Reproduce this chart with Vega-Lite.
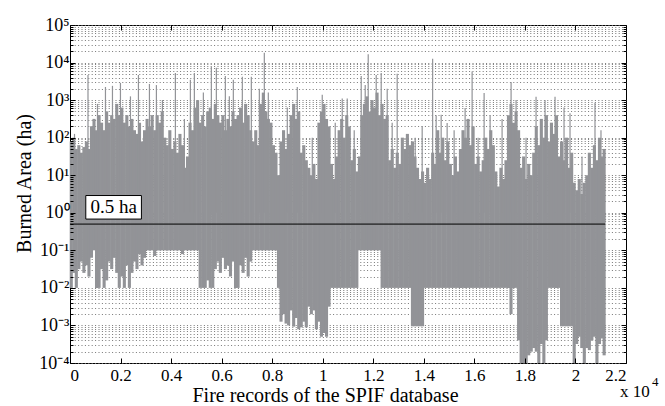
{
  "$schema": "https://vega.github.io/schema/vega-lite/v6.json",
  "width": 556,
  "height": 338,
  "autosize": {"type": "none"},
  "padding": {"left": 70, "top": 25, "right": 39, "bottom": 43},
  "background": "white",
  "config": {
    "font": "Liberation Serif",
    "view": {"stroke": "black", "strokeWidth": 1},
    "axis": {"labelFont": "Liberation Serif", "titleFont": "Liberation Serif", "labelColor": "black", "titleColor": "black", "titleFontWeight": "normal", "domainColor": "black", "tickColor": "black"}
  },
  "datasets": {
    "bins": [
      {"x":50,"lo":0.01,"hi":79.4},{"x":150,"lo":0.0251,"hi":100},{"x":250,"lo":0.01,"hi":50.1},{"x":350,"lo":0.0316,"hi":63.1},{"x":450,"lo":0.0501,"hi":39.8},{"x":550,"lo":0.0251,"hi":56.2},{"x":650,"lo":0.0398,"hi":79.4},{"x":750,"lo":0.02,"hi":50.1},{"x":850,"lo":0.0631,"hi":200},{"x":950,"lo":0.1,"hi":316},
      {"x":1050,"lo":0.01,"hi":158},{"x":1150,"lo":0.01,"hi":398},{"x":1250,"lo":0.0316,"hi":251},{"x":1350,"lo":0.01,"hi":158},{"x":1450,"lo":0.0158,"hi":501},{"x":1550,"lo":0.0501,"hi":251},{"x":1650,"lo":0.0316,"hi":398},{"x":1750,"lo":0.0631,"hi":316},{"x":1850,"lo":0.0251,"hi":794},{"x":1950,"lo":0.01,"hi":398},
      {"x":2050,"lo":0.02,"hi":631},{"x":2150,"lo":0.01,"hi":251},{"x":2250,"lo":0.0398,"hi":398},{"x":2350,"lo":0.01,"hi":200},{"x":2450,"lo":0.0251,"hi":316},{"x":2550,"lo":0.0501,"hi":158},{"x":2650,"lo":0.0316,"hi":126},{"x":2750,"lo":0.0794,"hi":251},{"x":2850,"lo":0.0398,"hi":79.4},{"x":2950,"lo":0.0631,"hi":158},
      {"x":3050,"lo":0.1,"hi":316},{"x":3150,"lo":0.1,"hi":200},{"x":3250,"lo":0.1,"hi":398},{"x":3350,"lo":0.0708,"hi":158},{"x":3450,"lo":0.1,"hi":398},{"x":3550,"lo":0.1,"hi":251},{"x":3650,"lo":0.1,"hi":501},{"x":3750,"lo":0.1,"hi":100},{"x":3850,"lo":0.1,"hi":63.1},{"x":3950,"lo":0.1,"hi":158},
      {"x":4050,"lo":0.1,"hi":50.1},{"x":4150,"lo":0.1,"hi":79.4},{"x":4250,"lo":0.1,"hi":39.8},{"x":4350,"lo":0.1,"hi":126},{"x":4450,"lo":0.0794,"hi":63.1},{"x":4550,"lo":0.1,"hi":15.8},{"x":4650,"lo":0.1,"hi":31.6},{"x":4750,"lo":0.1,"hi":251},{"x":4850,"lo":0.1,"hi":158},{"x":4950,"lo":0.1,"hi":631},
      {"x":5050,"lo":0.1,"hi":1000},{"x":5150,"lo":0.01,"hi":251},{"x":5250,"lo":0.01,"hi":398},{"x":5350,"lo":0.01,"hi":200},{"x":5450,"lo":0.0158,"hi":501},{"x":5550,"lo":0.01,"hi":631},{"x":5650,"lo":0.01,"hi":316},{"x":5750,"lo":0.0316,"hi":794},{"x":5850,"lo":0.0501,"hi":398},{"x":5950,"lo":0.0251,"hi":251},
      {"x":6050,"lo":0.0631,"hi":398},{"x":6150,"lo":0.0316,"hi":158},{"x":6250,"lo":0.0398,"hi":316},{"x":6350,"lo":0.02,"hi":200},{"x":6450,"lo":0.0501,"hi":501},{"x":6550,"lo":0.01,"hi":316},{"x":6650,"lo":0.01,"hi":398},{"x":6750,"lo":0.0398,"hi":631},{"x":6850,"lo":0.0251,"hi":251},{"x":6950,"lo":0.0631,"hi":794},
      {"x":7050,"lo":0.02,"hi":398},{"x":7150,"lo":0.0501,"hi":158},{"x":7250,"lo":0.1,"hi":79.4},{"x":7350,"lo":0.1,"hi":158},{"x":7450,"lo":0.1,"hi":63.1},{"x":7550,"lo":0.1,"hi":794},{"x":7650,"lo":0.1,"hi":1585},{"x":7750,"lo":0.1,"hi":501},{"x":7850,"lo":0.1,"hi":316},{"x":7950,"lo":0.1,"hi":251},
      {"x":8050,"lo":0.1,"hi":63.1},{"x":8150,"lo":0.1,"hi":39.8},{"x":8250,"lo":0.01,"hi":10},{"x":8350,"lo":0.00126,"hi":79.4},{"x":8450,"lo":0.002,"hi":158},{"x":8550,"lo":0.00112,"hi":50.1},{"x":8650,"lo":0.001,"hi":126},{"x":8750,"lo":0.00251,"hi":398},{"x":8850,"lo":0.00093,"hi":794},{"x":8950,"lo":0.00158,"hi":316},
      {"x":9050,"lo":0.00079,"hi":501},{"x":9150,"lo":0.00089,"hi":39.8},{"x":9250,"lo":0.00126,"hi":63.1},{"x":9350,"lo":0.00089,"hi":25.1},{"x":9450,"lo":0.00316,"hi":15.8},{"x":9550,"lo":0.002,"hi":10},{"x":9650,"lo":0.00251,"hi":20},{"x":9750,"lo":0.00079,"hi":7.94},{"x":9850,"lo":0.00126,"hi":251},{"x":9950,"lo":0.0005,"hi":501},
      {"x":10050,"lo":0.00063,"hi":794},{"x":10150,"lo":0.0005,"hi":316},{"x":10250,"lo":0.00316,"hi":200},{"x":10350,"lo":0.01,"hi":20},{"x":10450,"lo":0.01,"hi":7.94},{"x":10550,"lo":0.01,"hi":31.6},{"x":10650,"lo":0.01,"hi":158},{"x":10750,"lo":0.01,"hi":316},{"x":10850,"lo":0.01,"hi":100},{"x":10950,"lo":0.01,"hi":398},
      {"x":11050,"lo":0.01,"hi":200},{"x":11150,"lo":0.01,"hi":25.1},{"x":11250,"lo":0.01,"hi":50.1},{"x":11350,"lo":0.01,"hi":12.6},{"x":11450,"lo":0.1,"hi":31.6},{"x":11550,"lo":0.1,"hi":398},{"x":11650,"lo":0.1,"hi":794},{"x":11750,"lo":0.1,"hi":1259},{"x":11850,"lo":0.1,"hi":501},{"x":11950,"lo":0.1,"hi":1000},
      {"x":12050,"lo":0.1,"hi":631},{"x":12150,"lo":0.1,"hi":1585},{"x":12250,"lo":0.1,"hi":398},{"x":12350,"lo":0.01,"hi":794},{"x":12450,"lo":0.01,"hi":316},{"x":12550,"lo":0.01,"hi":398},{"x":12650,"lo":0.01,"hi":25.1},{"x":12750,"lo":0.01,"hi":50.1},{"x":12850,"lo":0.01,"hi":15.8},{"x":12950,"lo":0.01,"hi":39.8},
      {"x":13050,"lo":0.01,"hi":20},{"x":13150,"lo":0.01,"hi":100},{"x":13250,"lo":0.01,"hi":50.1},{"x":13350,"lo":0.01,"hi":126},{"x":13450,"lo":0.01,"hi":63.1},{"x":13550,"lo":0.00095,"hi":79.4},{"x":13650,"lo":0.00095,"hi":31.6},{"x":13750,"lo":0.00095,"hi":15.8},{"x":13850,"lo":0.00095,"hi":7.94},{"x":13950,"lo":0.00095,"hi":12.6},
      {"x":14050,"lo":0.01,"hi":6.31},{"x":14150,"lo":0.01,"hi":15.8},{"x":14250,"lo":0.01,"hi":7.94},{"x":14350,"lo":0.01,"hi":39.8},{"x":14450,"lo":0.01,"hi":20},{"x":14550,"lo":0.01,"hi":158},{"x":14650,"lo":0.01,"hi":39.8},{"x":14750,"lo":0.01,"hi":100},{"x":14850,"lo":0.01,"hi":25.1},{"x":14950,"lo":0.01,"hi":79.4},
      {"x":15050,"lo":0.01,"hi":20},{"x":15150,"lo":0.01,"hi":10},{"x":15250,"lo":0.01,"hi":31.6},{"x":15350,"lo":0.01,"hi":12.6},{"x":15450,"lo":0.01,"hi":50.1},{"x":15550,"lo":0.01,"hi":158},{"x":15650,"lo":0.01,"hi":100},{"x":15750,"lo":0.01,"hi":316},{"x":15850,"lo":0.01,"hi":63.1},{"x":15950,"lo":0.01,"hi":200},
      {"x":16050,"lo":0.01,"hi":20},{"x":16150,"lo":0.01,"hi":31.6},{"x":16250,"lo":0.01,"hi":12.6},{"x":16350,"lo":0.01,"hi":25.1},{"x":16450,"lo":0.01,"hi":100},{"x":16550,"lo":0.01,"hi":50.1},{"x":16650,"lo":0.01,"hi":158},{"x":16750,"lo":0.01,"hi":63.1},{"x":16850,"lo":0.01,"hi":12.6},{"x":16950,"lo":0.01,"hi":5.01},
      {"x":17050,"lo":0.01,"hi":15.8},{"x":17150,"lo":0.01,"hi":7.94},{"x":17250,"lo":0.01,"hi":25.1},{"x":17350,"lo":0.01,"hi":398},{"x":17450,"lo":0.002,"hi":794},{"x":17550,"lo":0.01,"hi":251},{"x":17650,"lo":0.01,"hi":501},{"x":17750,"lo":0.0004,"hi":158},{"x":17850,"lo":0.0001,"hi":15.8},{"x":17950,"lo":0.0001,"hi":31.6},
      {"x":18050,"lo":0.0001,"hi":7.94},{"x":18150,"lo":0.00016,"hi":20},{"x":18250,"lo":0.0002,"hi":10},{"x":18350,"lo":0.00025,"hi":39.8},{"x":18450,"lo":0.0002,"hi":200},{"x":18550,"lo":0.0001,"hi":63.1},{"x":18650,"lo":0.00032,"hi":316},{"x":18750,"lo":0.0001,"hi":100},{"x":18850,"lo":0.0004,"hi":398},{"x":18950,"lo":0.01,"hi":79.4},
      {"x":19050,"lo":0.01,"hi":251},{"x":19150,"lo":0.01,"hi":126},{"x":19250,"lo":0.01,"hi":398},{"x":19350,"lo":0.01,"hi":31.6},{"x":19450,"lo":0.00095,"hi":79.4},{"x":19550,"lo":0.00095,"hi":25.1},{"x":19650,"lo":0.00095,"hi":100},{"x":19750,"lo":0.00095,"hi":15.8},{"x":19850,"lo":0.00095,"hi":39.8},{"x":19950,"lo":0.0001,"hi":6.31},
      {"x":20050,"lo":0.00032,"hi":3.98},{"x":20150,"lo":0.0005,"hi":7.94},{"x":20250,"lo":0.00025,"hi":3.16},{"x":20350,"lo":0.0001,"hi":6.31},{"x":20450,"lo":0.00025,"hi":10},{"x":20550,"lo":0.00022,"hi":39.8},{"x":20650,"lo":0.0004,"hi":15.8},{"x":20750,"lo":0.0005,"hi":63.1},{"x":20850,"lo":0.0001,"hi":25.1},{"x":20950,"lo":0.00032,"hi":100},
      {"x":21050,"lo":0.00045,"hi":31.6},{"x":21135,"lo":0.00016,"hi":50.1}
    ],
    "spikes": [
      {"x":712,"peak":4677},{"x":1403,"peak":2239},{"x":1680,"peak":2399},{"x":1996,"peak":2884},{"x":2708,"peak":4677},{"x":3143,"peak":2692},{"x":3419,"peak":2512},{"x":4170,"peak":5248},{"x":4763,"peak":3467},{"x":4921,"peak":5248},
      {"x":5593,"peak":7586},{"x":5791,"peak":7244},{"x":6147,"peak":4365},{"x":6463,"peak":3467},{"x":6819,"peak":4169},{"x":7175,"peak":4169},{"x":7689,"peak":18197},{"x":7847,"peak":1585},{"x":8993,"peak":2239},{"x":9981,"peak":1380},
      {"x":10772,"peak":1096},{"x":10970,"peak":1096},{"x":11523,"peak":4365},{"x":11681,"peak":2512},{"x":11800,"peak":16596},{"x":12116,"peak":4677},{"x":12314,"peak":5248},{"x":12551,"peak":1995},{"x":12946,"peak":5012},{"x":13935,"peak":204},
      {"x":14349,"peak":12589},{"x":14488,"peak":398},{"x":14686,"peak":407},{"x":14923,"peak":245},{"x":15634,"peak":617},{"x":15911,"peak":5754},{"x":16386,"peak":1549},{"x":16623,"peak":398},{"x":17097,"peak":316},{"x":17453,"peak":3020},
      {"x":17650,"peak":1000},{"x":18441,"peak":1230},{"x":18797,"peak":1000},{"x":19192,"peak":1230},{"x":19785,"peak":447},{"x":20773,"peak":851},{"x":21010,"peak":158},
      {"x":178,"peak":126},{"x":1087,"peak":794},{"x":2392,"peak":1259},{"x":3656,"peak":1000},{"x":4526,"peak":316},{"x":5277,"peak":1585},{"x":6305,"peak":1259},{"x":7492,"peak":1995},{"x":8598,"peak":631},{"x":9586,"peak":100},
      {"x":10495,"peak":251},{"x":11246,"peak":158},{"x":12748,"peak":251},{"x":13658,"peak":100},{"x":15199,"peak":158},{"x":16148,"peak":100},{"x":18045,"peak":100},{"x":19548,"peak":631},{"x":20259,"peak":31.6}
    ]
  },
  "layer": [
    {
      "data": {"values": [{"x0": 0, "x1": 21170, "level": 0.5}]},
      "mark": {"type": "rule", "color": "black", "strokeWidth": 1, "opacity": 0},
      "encoding": {
        "x": {"field": "x0", "type": "quantitative", "scale": {"domain": [0, 22000], "nice": false, "zero": false},
          "axis": {"orient": "top", "values": [0,2000,4000,6000,8000,10000,12000,14000,16000,18000,20000,22000], "labels": false, "tickSize": -5, "grid": false, "domain": false, "title": null, "zindex": 0}},
        "x2": {"field": "x1"},
        "y": {"field": "level", "type": "quantitative", "scale": {"type": "log", "domain": [0.0001, 100000], "nice": false},
          "axis": {"orient": "right", "values": [0.0001,0.0002,0.0003,0.0004,0.0005,0.0006,0.0007,0.0008,0.0009,0.001,0.002,0.003,0.004,0.005,0.006,0.007,0.008,0.009,0.01,0.02,0.03,0.04,0.05,0.06,0.07,0.08,0.09,0.1,0.2,0.3,0.4,0.5,0.6,0.7,0.8,0.9,1,2,3,4,5,6,7,8,9,10,20,30,40,50,60,70,80,90,100,200,300,400,500,600,700,800,900,1000,2000,3000,4000,5000,6000,7000,8000,9000,10000,20000,30000,40000,50000,60000,70000,80000,90000,100000],
            "labels": false,
            "tickSize": {"condition": {"test": "abs(log(datum.value)/LN10 - round(log(datum.value)/LN10)) < 0.001", "value": -5}, "value": -3},
            "grid": true, "gridColor": "#777777", "gridDash": [1, 2.4], "gridWidth": 1,
            "domain": false, "title": null, "zindex": 0}}
      }
    },
    {
      "data": {"name": "bins"},
      "mark": {"type": "rule", "color": "#929397", "strokeWidth": 3.1},
      "encoding": {
        "x": {"field": "x", "type": "quantitative",
          "scale": {"domain": [0, 22000], "nice": false, "zero": false},
          "axis": {"orient": "bottom", "values": [0,2000,4000,6000,8000,10000,12000,14000,16000,18000,20000,22000],
            "labelExpr": "format(datum.value/10000, '~g')", "labelFontSize": 17, "labelPadding": 9, "tickSize": -5,
            "grid": false, "domain": false, "zindex": 1,
            "title": "Fire records of the SPIF database", "titleFontSize": 20, "titlePadding": 2, "titleX": 255, "titleAlign": "center"}},
        "y": {"field": "lo", "type": "quantitative",
          "scale": {"type": "log", "domain": [0.0001, 100000], "nice": false},
          "axis": {"orient": "left",
            "values": [0.0001,0.0002,0.0003,0.0004,0.0005,0.0006,0.0007,0.0008,0.0009,0.001,0.002,0.003,0.004,0.005,0.006,0.007,0.008,0.009,0.01,0.02,0.03,0.04,0.05,0.06,0.07,0.08,0.09,0.1,0.2,0.3,0.4,0.5,0.6,0.7,0.8,0.9,1,2,3,4,5,6,7,8,9,10,20,30,40,50,60,70,80,90,100,200,300,400,500,600,700,800,900,1000,2000,3000,4000,5000,6000,7000,8000,9000,10000,20000,30000,40000,50000,60000,70000,80000,90000,100000],
            "labelExpr": "abs(log(datum.value)/LN10 - round(log(datum.value)/LN10)) < 0.001 ? '10' + ['⁻⁴','⁻³','⁻²','⁻¹','⁰','¹','²','³','⁴','⁵'][round(log(datum.value)/LN10)+4] : ''",
            "labelFontSize": 18, "labelPadding": 6, "labelBaseline": "middle",
            "tickSize": {"condition": {"test": "abs(log(datum.value)/LN10 - round(log(datum.value)/LN10)) < 0.001", "value": -5}, "value": -3},
            "grid": false, "domain": false, "zindex": 1,
            "title": "Burned Area (ha)", "titleFontSize": 20, "titlePadding": 4, "titleY": 158}},
        "y2": {"field": "hi"}
      }
    },
    {
      "data": {"name": "spikes"},
      "mark": {"type": "rule", "color": "#929397", "strokeWidth": 1.2},
      "encoding": {
        "x": {"field": "x", "type": "quantitative", "scale": {"domain": [0, 22000], "nice": false, "zero": false}, "axis": null},
        "y": {"field": "peak", "type": "quantitative", "scale": {"type": "log", "domain": [0.0001, 100000], "nice": false}, "axis": null},
        "y2": {"datum": 1}
      }
    },
    {
      "data": {"values": [{"x0": 0, "x1": 21170, "level": 0.5}]},
      "mark": {"type": "rule", "color": "black", "strokeWidth": 1},
      "encoding": {
        "x": {"field": "x0", "type": "quantitative", "scale": {"domain": [0, 22000], "nice": false, "zero": false}, "axis": null},
        "x2": {"field": "x1"},
        "y": {"field": "level", "type": "quantitative", "scale": {"type": "log", "domain": [0.0001, 100000], "nice": false}, "axis": null}
      }
    },
    {
      "data": {"values": [{"x0": 625, "x1": 2826, "y0": 0.68, "y1": 2.88}]},
      "mark": {"type": "rect", "fill": "white", "stroke": "black", "strokeWidth": 1},
      "encoding": {
        "x": {"field": "x0", "type": "quantitative", "scale": {"domain": [0, 22000], "nice": false, "zero": false}, "axis": null},
        "x2": {"field": "x1"},
        "y": {"field": "y0", "type": "quantitative", "scale": {"type": "log", "domain": [0.0001, 100000], "nice": false}, "axis": null},
        "y2": {"field": "y1"}
      }
    },
    {
      "data": {"values": [{"x": 1725, "y": 1.4, "label": "0.5 ha"}]},
      "mark": {"type": "text", "font": "Liberation Serif", "fontSize": 19, "color": "black", "align": "center", "baseline": "middle"},
      "encoding": {
        "x": {"field": "x", "type": "quantitative", "scale": {"domain": [0, 22000], "nice": false, "zero": false}, "axis": null},
        "y": {"field": "y", "type": "quantitative", "scale": {"type": "log", "domain": [0.0001, 100000], "nice": false}, "axis": null},
        "text": {"field": "label"}
      }
    },
    {
      "data": {"values": [{"x": 22000, "y": 0.0001, "label": "x 10"}]},
      "mark": {"type": "text", "font": "Liberation Serif", "fontSize": 17, "color": "black", "align": "left", "baseline": "alphabetic", "dx": -6, "dy": 34},
      "encoding": {
        "x": {"field": "x", "type": "quantitative", "scale": {"domain": [0, 22000], "nice": false, "zero": false}, "axis": null},
        "y": {"field": "y", "type": "quantitative", "scale": {"type": "log", "domain": [0.0001, 100000], "nice": false}, "axis": null},
        "text": {"field": "label"}
      }
    },
    {
      "data": {"values": [{"x": 22000, "y": 0.0001, "label": "4"}]},
      "mark": {"type": "text", "font": "Liberation Serif", "fontSize": 13, "color": "black", "align": "left", "baseline": "alphabetic", "dx": 26, "dy": 23},
      "encoding": {
        "x": {"field": "x", "type": "quantitative", "scale": {"domain": [0, 22000], "nice": false, "zero": false}, "axis": null},
        "y": {"field": "y", "type": "quantitative", "scale": {"type": "log", "domain": [0.0001, 100000], "nice": false}, "axis": null},
        "text": {"field": "label"}
      }
    }
  ]
}
